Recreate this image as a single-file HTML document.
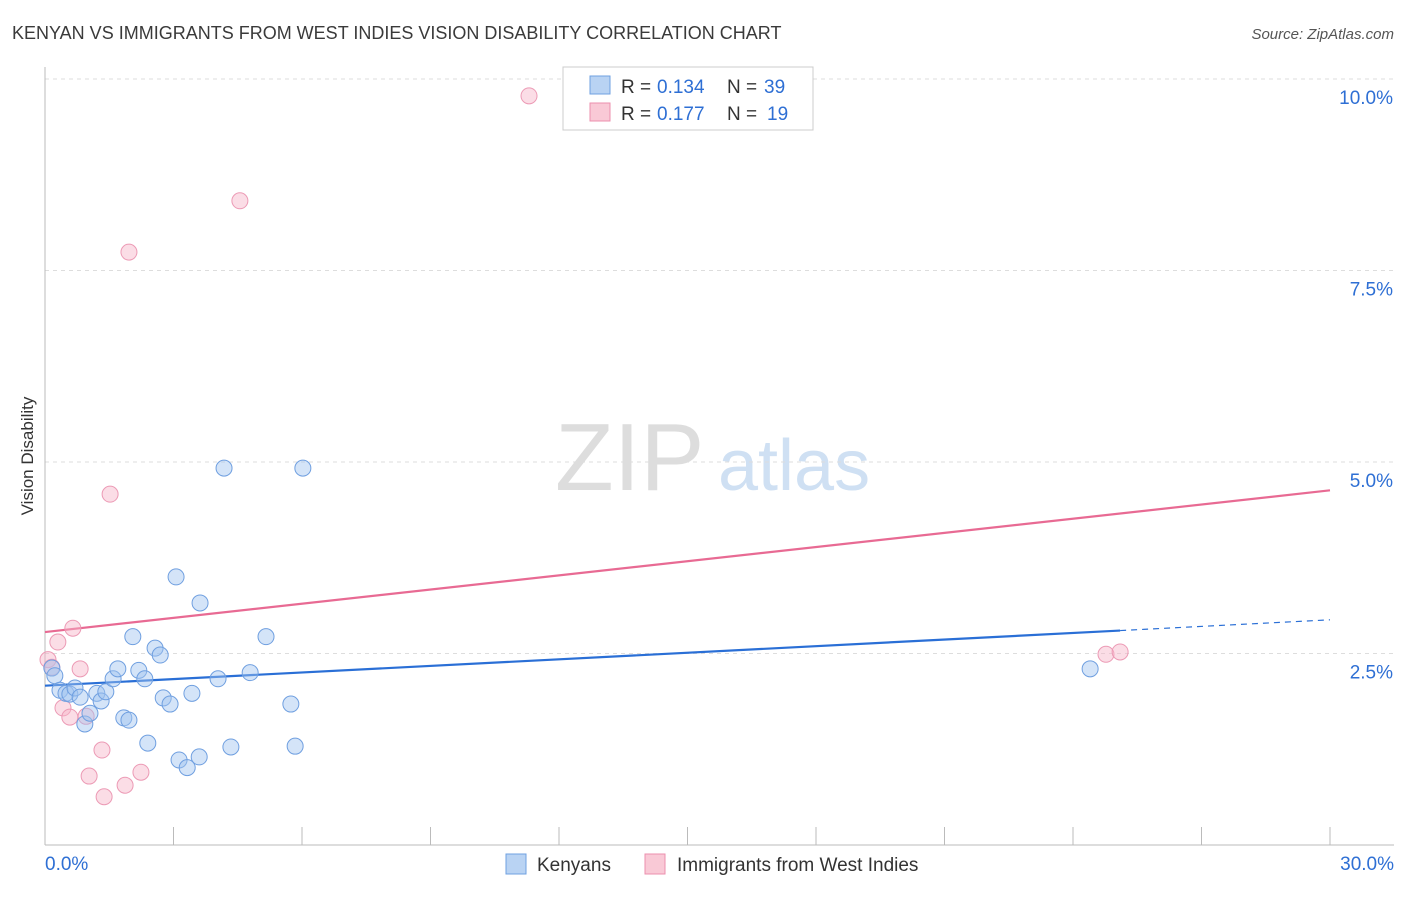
<!DOCTYPE html>
<html><head><meta charset="utf-8"><style>
body{margin:0;background:#fff;font-family:"Liberation Sans",sans-serif;}
svg text{font-family:"Liberation Sans",sans-serif;}
</style></head><body>
<svg id="chart" width="1406" height="892" xmlns="http://www.w3.org/2000/svg">
<text x="12" y="39" font-size="18" fill="#3a3a3a">KENYAN VS IMMIGRANTS FROM WEST INDIES VISION DISABILITY CORRELATION CHART</text>
<text x="1394" y="39" font-size="15" fill="#555" text-anchor="end" font-style="italic">Source: ZipAtlas.com</text>
<g>
<text x="555" y="490" font-size="96" fill="#ddd" font-family="Liberation Serif">ZIP</text>
<text x="718" y="490" font-size="72" fill="#cfe0f3">atlas</text>
</g>
<text transform="translate(33,456) rotate(-90)" font-size="17" fill="#333" text-anchor="middle">Vision Disability</text>
<g id="grid"></g>
<g id="axes"></g>
<g id="lines"></g>
<g id="points"></g>
<g>
<rect x="563" y="67" width="250" height="63" fill="#fff" stroke="#ccc"/>
<rect x="590" y="76" width="20" height="18" fill="#b9d3f3" stroke="#6fa0e0"/>
<text x="621" y="93" font-size="19" fill="#333">R =</text>
<text x="657" y="93" font-size="19" fill="#2e6fd4">0.134</text>
<text x="727" y="93" font-size="19" fill="#333">N =</text>
<text x="764" y="93" font-size="19" fill="#2e6fd4">39</text>
<rect x="590" y="103" width="20" height="18" fill="#f9c9d6" stroke="#ec8fae"/>
<text x="621" y="120" font-size="19" fill="#333">R =</text>
<text x="657" y="120" font-size="19" fill="#2e6fd4">0.177</text>
<text x="727" y="120" font-size="19" fill="#333">N =</text>
<text x="767" y="120" font-size="19" fill="#2e6fd4">19</text>
</g>
<g>
<rect x="506" y="854" width="20" height="20" fill="#b9d3f3" stroke="#6fa0e0"/>
<text x="537" y="871" font-size="19" fill="#333">Kenyans</text>
<rect x="645" y="854" width="20" height="20" fill="#f9c9d6" stroke="#ec8fae"/>
<text x="677" y="871" font-size="19" fill="#333">Immigrants from West Indies</text>
</g>
</svg>
<script>
const kenyanX=[0.16,0.23,0.35,0.49,0.58,0.70,0.82,0.93,1.05,1.21,1.31,1.42,1.59,1.70,1.84,1.96,2.05,2.19,2.33,2.40,2.57,2.69,2.76,2.92,3.06,3.13,3.32,3.43,3.60,3.62,4.04,4.18,4.34,4.79,5.16,5.74,5.84,6.02,24.40];
const kenyanY=[2.31,2.21,2.02,1.98,1.97,2.05,1.93,1.58,1.72,1.98,1.88,2.00,2.17,2.30,1.66,1.63,2.72,2.28,2.17,1.33,2.57,2.48,1.92,1.84,3.50,1.11,1.01,1.98,1.15,3.16,2.17,4.92,1.28,2.25,2.72,1.84,1.29,4.92,2.30];
const westX=[0.07,0.16,0.30,0.42,0.58,0.65,0.82,0.96,1.03,1.33,1.38,1.52,1.87,1.96,2.24,4.55,11.30,24.77,25.10];
const westY=[2.42,2.32,2.65,1.79,1.67,2.83,2.30,1.68,0.90,1.24,0.63,4.58,0.78,7.74,0.95,8.41,9.78,2.49,2.52];
const kenyanTrend=[2.08,2.94];
const westTrend=[2.78,4.63];
const yTicks=[2.5,5.0,7.5,10.0];
const yTickLabels=["2.5%","5.0%","7.5%","10.0%"];
const xTicks=[0,3,6,9,12,15,18,21,24,27,30];
const NS="http://www.w3.org/2000/svg";
const sx=v=>45+v*1285/30;
const sy=v=>845-v*76.6;
function mk(tag,parent,attrs){const e=document.createElementNS(NS,tag);for(const k in attrs)e.setAttribute(k,attrs[k]);document.getElementById(parent).appendChild(e);return e;}
yTicks.forEach((t,i)=>{
 const l=mk('line','grid',{x1:45,x2:1394,y1:sy(t),y2:sy(t),stroke:'#ddd','stroke-dasharray':'4,4'});
 
 
 const tx=mk('text','grid',{x:1393,y:sy(t)+25,'font-size':19,fill:'#2e6fd4','text-anchor':'end'});
 tx.textContent=yTickLabels[i];
 
 
});
const ya=mk('line','axes',{x1:45,x2:45,y1:67,y2:845,stroke:'#bbb'});


const xa=mk('line','axes',{x1:45,x2:1394,y1:845,y2:845,stroke:'#bbb'});


xTicks.forEach(t=>{
 const l=mk('line','axes',{x1:sx(t),x2:sx(t),y1:827,y2:845,stroke:'#bbb'});
 
 
});
const x0=mk('text','axes',{x:45,y:870,'font-size':19,fill:'#2e6fd4'});x0.textContent=xTicks[0].toFixed(1)+'%';


const x1=mk('text','axes',{x:1394,y:870,'font-size':19,fill:'#2e6fd4','text-anchor':'end'});x1.textContent=xTicks[xTicks.length-1].toFixed(1)+'%';


const kx=25.1, ky=kenyanTrend[0]+(kenyanTrend[1]-kenyanTrend[0])*kx/30;
const t1=mk('line','lines',{x1:sx(0),y1:sy(kenyanTrend[0]),x2:sx(kx),y2:sy(ky),stroke:'#2a6fd6','stroke-width':2.2});


const t2=mk('line','lines',{x1:sx(kx),y1:sy(ky),x2:sx(30),y2:sy(kenyanTrend[1]),stroke:'#2a6fd6','stroke-width':1.2,'stroke-dasharray':'6,5'});


const t3=mk('line','lines',{x1:sx(0),y1:sy(westTrend[0]),x2:sx(30),y2:sy(westTrend[1]),stroke:'#e86a93','stroke-width':2.2});


westX.forEach((v,i)=>{
 const c=mk('circle','points',{cx:sx(v),cy:sy(westY[i]),r:8,fill:'rgba(246,180,200,0.45)',stroke:'#ec9ab5','stroke-width':1});
 
 
});
kenyanX.forEach((v,i)=>{
 const c=mk('circle','points',{cx:sx(v),cy:sy(kenyanY[i]),r:8,fill:'rgba(160,195,240,0.45)',stroke:'#6f9fe0','stroke-width':1});
 
 
});
</script>
</body></html>
